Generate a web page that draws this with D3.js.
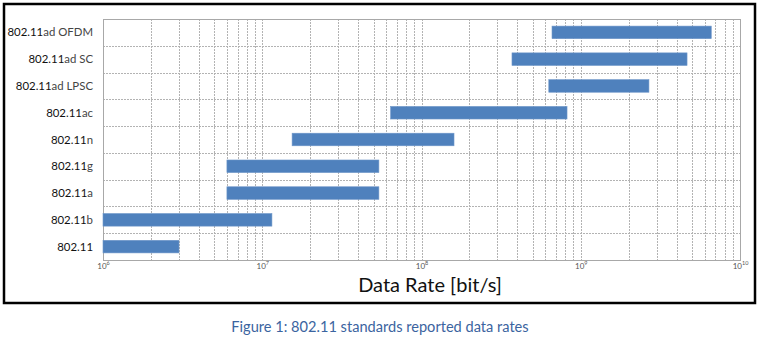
<!DOCTYPE html>
<html>
<head>
<meta charset="utf-8">
<script src="https://cdn.jsdelivr.net/npm/d3@7"></script>
<style>
  html, body { margin: 0; padding: 0; background: #fff; }
  svg { display: block; }
</style>
</head>
<body>
<svg id="chart" width="759" height="345"></svg>
<script>
// ---- data ----
const categories = ["802.11ad OFDM", "802.11ad SC", "802.11ad LPSC", "802.11ac", "802.11n", "802.11g", "802.11a", "802.11b", "802.11"];
const minRate = [6.6e8, 3.7e8, 6.3e8, 6.4e7, 1.54e7, 6e6, 6e6, 1e6, 1e6];
const maxRate = [6.6e9, 4.65e9, 2.68e9, 8.2e8, 1.6e8, 5.4e7, 5.4e7, 1.15e7, 3e6];
const tickExponents = ["6", "7", "8", "9", "10"];
const xTitle = "Data Rate [bit/s]";
const caption = "Figure 1: 802.11 standards reported data rates";

const rows = categories.map((c, i) => ({ name: c, lo: minRate[i], hi: maxRate[i] }));

const svg = d3.select("#chart");
const font = "Lato, 'Open Sans', sans-serif";

// outer frame
svg.append("rect").attr("x", 4).attr("y", 4).attr("width", 751).attr("height", 299)
  .attr("fill", "none").attr("stroke", "#000").attr("stroke-width", 2.5);

const plot = { left: 103, right: 740, top: 19, bottom: 260 };

const x = d3.scaleLog().domain([1e6, 1e10]).range([plot.left, plot.right]);
const y = d3.scaleBand().domain(categories).range([plot.top, plot.bottom])
  .paddingInner(0.53).paddingOuter(0.265);

const g = svg.append("g");
const gridColor = "#b3b3b3";

// vertical grid (major + minor)
const gridVals = [];
for (let d = 6; d < 10; d++) for (let m = 1; m <= 9; m++) gridVals.push(m * Math.pow(10, d));
g.append("g").selectAll("line").data(gridVals.filter(v => v > 1e6 && v < 1e10)).join("line")
  .attr("x1", d => Math.round(x(d)) + 0.5).attr("x2", d => Math.round(x(d)) + 0.5)
  .attr("y1", plot.top).attr("y2", plot.bottom)
  .attr("stroke", gridColor).attr("stroke-width", 1).attr("stroke-dasharray", "2,1");

// horizontal grid at row boundaries
const bounds = d3.range(1, categories.length).map(i => plot.top + i * (plot.bottom - plot.top) / categories.length);
g.append("g").selectAll("line").data(bounds).join("line")
  .attr("x1", plot.left).attr("x2", plot.right)
  .attr("y1", d => Math.round(d) + 0.5).attr("y2", d => Math.round(d) + 0.5)
  .attr("stroke", gridColor).attr("stroke-width", 1).attr("stroke-dasharray", "2,1");

// plot frame
g.append("rect").attr("x", plot.left + 0.5).attr("y", plot.top + 0.5)
  .attr("width", plot.right - plot.left).attr("height", plot.bottom - plot.top)
  .attr("fill", "none").attr("stroke", "#a8a8a8").attr("stroke-width", 1);

// bars
g.append("g").selectAll("rect").data(rows).join("rect")
  .attr("x", d => x(d.lo)).attr("width", d => x(d.hi) - x(d.lo))
  .attr("y", d => y(d.name)).attr("height", y.bandwidth())
  .attr("fill", "#4f81bd").attr("stroke", "#6f97c9").attr("stroke-width", 0.6);

// category labels
const lab = g.append("g").selectAll("text").data(rows).join("text")
  .attr("x", 93).attr("y", d => y(d.name) + y.bandwidth() / 2 + 4)
  .attr("text-anchor", "end").attr("font-family", font).attr("font-size", 11.4);
lab.append("tspan").attr("fill", "#111").text(d => d.name.slice(0, 6));
lab.append("tspan").attr("fill", "#444").text(d => d.name.slice(6));

// x-axis tick labels (10^n)
const axis = d3.axisBottom(x).tickValues(tickExponents.map(e => Math.pow(10, +e))).tickSize(0).tickFormat("");
const ax = svg.append("g").attr("transform", `translate(0,${plot.bottom})`).call(axis);
ax.select(".domain").remove();
ax.selectAll(".tick").each(function(d, i) {
  const t = d3.select(this).append("text").attr("y", 8.5).attr("fill", "#555")
    .attr("font-family", font).attr("font-size", 8).attr("text-anchor", "middle");
  t.append("tspan").text("10");
  t.append("tspan").attr("dy", -4).attr("font-size", 5.5).text(tickExponents[i]);
});

// axis title
svg.append("text").attr("x", 430).attr("y", 292).attr("text-anchor", "middle")
  .attr("font-family", font).attr("font-size", 20).attr("fill", "#111").text(xTitle);

// caption
svg.append("text").attr("x", 380).attr("y", 332).attr("text-anchor", "middle")
  .attr("font-family", font).attr("font-size", 14.6).attr("fill", "#3b64a0").text(caption);
</script>
</body>
</html>
